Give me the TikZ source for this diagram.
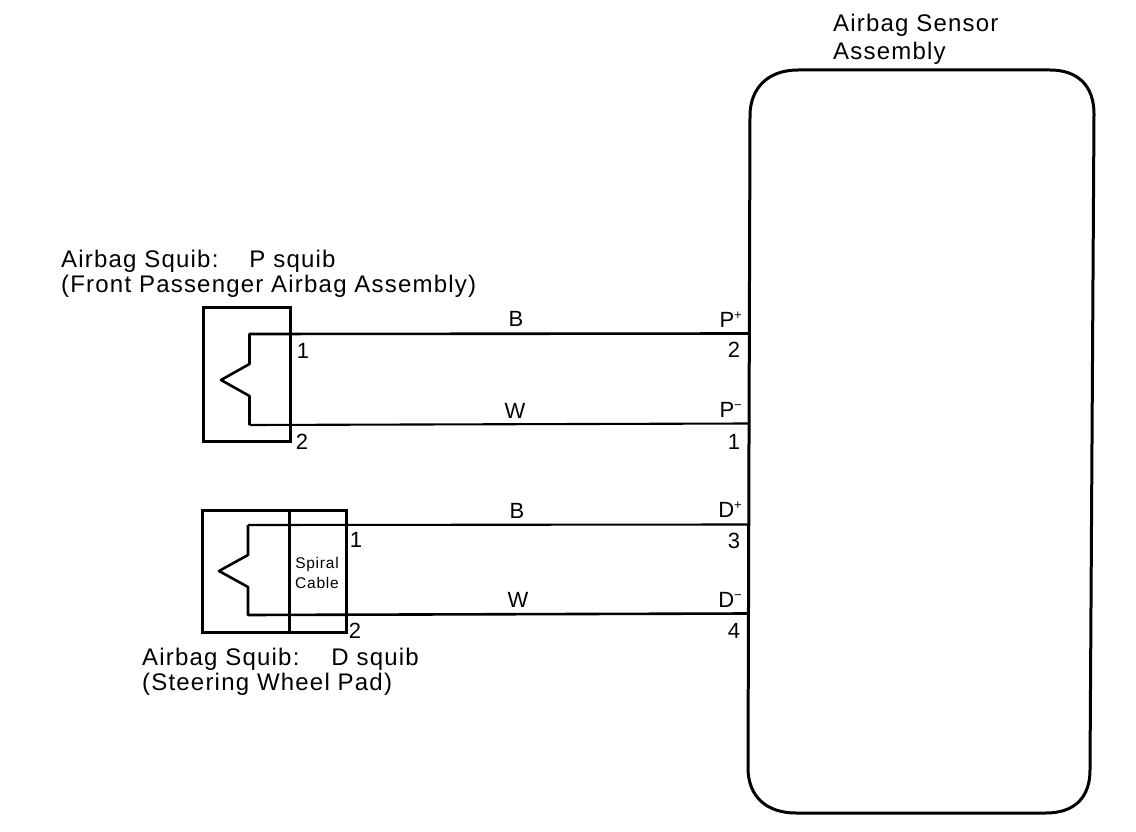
\documentclass[tikz,border=0pt]{standalone}
\usepackage{fontspec}
\setmainfont{Liberation Sans}
\newfontfamily\labelfont[LetterSpace=5]{Liberation Sans}
\begin{document}
\begin{tikzpicture}[x=1pt,y=-1pt,
  lbl/.style={inner sep=0pt,font=\labelfont\fontsize{24}{28}\selectfont,anchor=base west,align=left},
  pin/.style={inner sep=0pt,font=\fontsize{22}{25}\selectfont,anchor=base},
  small/.style={inner sep=0pt,font=\labelfont\fontsize{15.5}{20}\selectfont,align=center},
  thick box/.style={draw,line width=3pt,line join=miter,outer sep=0pt},
  wire/.style={draw,line width=2.6pt,line join=round},
  thin wire/.style={draw,line width=2.1pt,line join=round}]
\useasboundingbox (0,0) rectangle (1136,832);
\fill[white] (0,0) rectangle (1136,832);
% sensor
\draw[line width=3pt] (798,70) -- (1050,70) .. controls (1078,70) and (1094,86) .. (1094,114)
  -- (1090,770) .. controls (1090,798) and (1074,813) .. (1046,813)
  -- (796,813) .. controls (766,813) and (748,796) .. (748,768)
  -- (750,116) .. controls (750,88) and (768,70) .. (798,70) -- cycle;
\coordinate (sP1) at (749,333.5);
\coordinate (sP2) at (749,423.5);
\coordinate (sD1) at (748,524.5);
\coordinate (sD2) at (748,613.5);
% P squib
\node[thick box,minimum width=87pt,minimum height=134pt,inner sep=0pt,anchor=north west] (pbox) at (203,307.5) {};
\coordinate (pt) at (249.5,334);
\coordinate (pb) at (249.5,425);
\path[wire] (sP1) -- (pt) -- (249.5,364) -- (221,380) -- (249.5,396) -- (pb);
\path[thin wire] (pb) -- (sP2);
% D squib
\node[thick box,minimum width=144pt,minimum height=122pt,inner sep=0pt,anchor=north west] (dbox) at (202,510) {};
\draw[line width=3pt] (dbox.north west -| 289,0) -- (dbox.south west -| 289,0);
\coordinate (dt) at (248,525);
\coordinate (db) at (248,615);
\path[thin wire] (sD1) -- (dt);
\path[wire] (dt) -- (248,555) -- (219,571) -- (248,587) -- (db) -- (sD2);
\node[small] (spiral) at (317,573) {Spiral\\Cable};
% labels
\node[lbl] (a1) at (833,32) {Airbag Sensor};
\node[lbl] (a2) at (833,60) {Assembly};
\node[lbl] (p1) at (61,267) {Airbag Squib:\hspace{31pt}P squib};
\node[lbl] (p2) at (61,292) {(Front Passenger Airbag Assembly)};
\node[lbl] (d1) at (142,665) {Airbag Squib:\hspace{32pt}D squib};
\node[lbl] (d2) at (142,690) {(Steering Wheel Pad)};
\node[pin] (n1) at (303,358) {1};
\node[pin] (n2) at (302,449) {2};
\node[pin] (n3) at (356,547) {1};
\node[pin] (n4) at (355,638) {2};
\node[pin] (b1) at (516,326) {B};
\node[pin] (w1) at (515,418) {W};
\node[pin] (b2) at (517,518) {B};
\node[pin] (w2) at (518,607) {W};
\node[pin,anchor=base east] (pp) at (742,327) {P\raisebox{0.35em}{\fontsize{13}{13}\selectfont +}};
\node[pin,anchor=base east] (pm) at (742,417) {P\raisebox{0.35em}{\fontsize{13}{13}\selectfont −}};
\node[pin,anchor=base east] (dp) at (742,517) {D\raisebox{0.35em}{\fontsize{13}{13}\selectfont +}};
\node[pin,anchor=base east] (dm) at (742,607) {D\raisebox{0.35em}{\fontsize{13}{13}\selectfont −}};
\node[pin] (t2) at (734,357) {2};
\node[pin] (t1) at (734,449) {1};
\node[pin] (t3) at (734,548) {3};
\node[pin] (t4) at (734,638) {4};
\end{tikzpicture}
\end{document}
